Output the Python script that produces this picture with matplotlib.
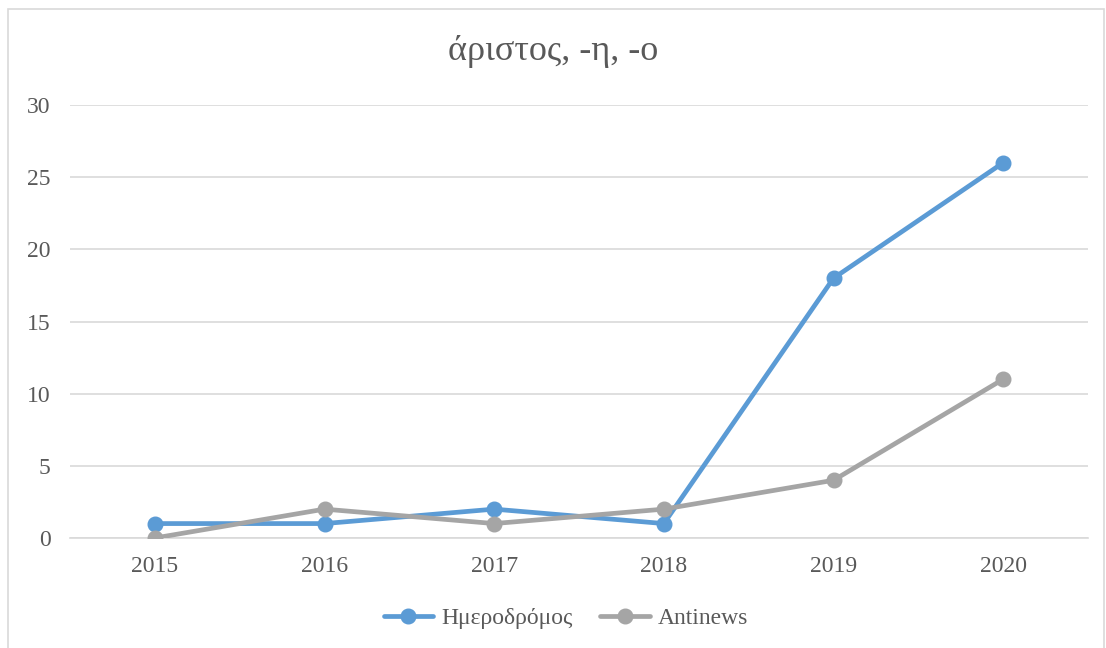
import matplotlib.pyplot as plt
from matplotlib.patches import Rectangle

years = ["2015", "2016", "2017", "2018", "2019", "2020"]
imerodromos = [1, 1, 2, 1, 18, 26]
antinews = [0, 2, 1, 2, 4, 11]
yticks = [0, 5, 10, 15, 20, 25, 30]

plt.rcParams['font.family'] = ['Liberation Serif', 'DejaVu Serif']
text_color = "#595959"

fig = plt.figure(figsize=(11.06, 6.48), dpi=100)
ax = fig.add_axes([70 / 1106, 1 - 538 / 648, (1088 - 70) / 1106, (538 - 105) / 648])

x = list(range(len(years)))
ax.plot(x, imerodromos, color="#5B9BD5", lw=3.4, marker="o", markersize=10.5,
        label="Ημεροδρόμος", solid_capstyle="round", zorder=3)
ax.plot(x, antinews, color="#A5A5A5", lw=3.4, marker="o", markersize=10.5,
        label="Antinews", solid_capstyle="round", zorder=3)

ax.set_xlim(-0.5, len(years) - 0.5)
ax.set_ylim(0, 30)
ax.set_yticks(yticks)
ax.set_xticks(x)
ax.set_xticklabels(years)
ax.grid(axis="y", color="#D9D9D9", lw=1.2)
ax.set_axisbelow(True)
for s in ["top", "right", "left"]:
    ax.spines[s].set_visible(False)
ax.spines["bottom"].set_color("#D9D9D9")
ax.spines["bottom"].set_linewidth(1.2)
ax.tick_params(axis="both", length=0, labelsize=17, colors=text_color)
ax.tick_params(axis="y", pad=14)
ax.tick_params(axis="x", pad=13)

fig.text(0.5, 1 - 52 / 648, "άριστος, -η, -ο", ha="center", va="center",
         fontsize=26, color=text_color)

fig.legend(loc="center", bbox_to_anchor=(566 / 1106, 1 - 618 / 648), ncol=2,
           frameon=False, fontsize=17, labelcolor=text_color, handlelength=2.1,
           handletextpad=0.35, columnspacing=1.15)

fig.patches.append(Rectangle((8 / 1106, -0.01), 1096 / 1106, 1 - 9 / 648 + 0.01,
                             transform=fig.transFigure, fill=False,
                             edgecolor="#D9D9D9", lw=1.2))

fig.savefig("out.png", dpi=100)
